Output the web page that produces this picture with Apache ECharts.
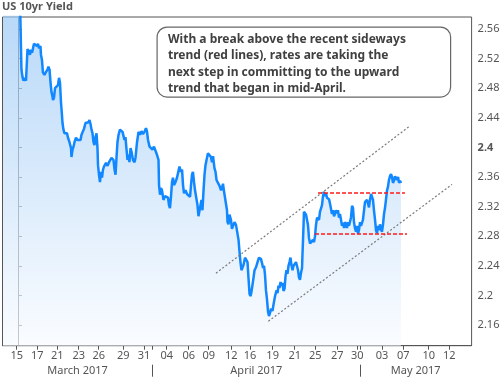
<!DOCTYPE html>
<html>
<head>
<meta charset="utf-8">
<script src="https://cdn.jsdelivr.net/npm/echarts@6/dist/echarts.min.js"></script>
<style>
  html, body { margin: 0; padding: 0; background: #fff; }
  #chart { width: 503px; height: 377px; }
</style>
</head>
<body>
<div id="chart"></div>
<script>
// x = trading session index counted from Mar 15 2017 (weekends removed)
const tradingDay = [
  -1.39,0.19,0.32,0.42,0.51,0.60,0.74,0.83,0.88,1.02,1.11,1.20,1.30,1.39,1.48,1.62,1.76,1.85,1.94,2.08,
  2.13,2.22,2.31,2.45,2.59,2.73,2.82,2.92,3.01,3.10,3.19,3.24,3.33,3.43,3.56,3.70,3.80,3.89,3.98,4.07,
  4.12,4.21,4.31,4.44,4.54,4.63,4.77,4.91,4.95,5.05,5.14,5.23,5.37,5.51,5.65,5.79,5.88,5.97,6.11,6.25,
  6.39,6.53,6.62,6.71,6.81,6.90,6.99,7.08,7.18,7.27,7.36,7.41,7.50,7.59,7.69,7.78,7.87,7.96,8.15,8.29,
  8.43,8.56,8.66,8.75,8.84,8.94,9.03,9.12,9.21,9.31,9.44,9.54,9.68,9.77,9.86,9.95,10.05,10.14,10.23,10.32,
  10.42,10.51,10.65,10.79,10.88,11.02,11.16,11.30,11.44,11.57,11.71,11.85,11.94,12.04,12.18,12.31,12.45,12.59,12.73,12.87,
  13.01,13.06,13.15,13.24,13.33,13.47,13.61,13.75,13.89,13.98,14.07,14.17,14.26,14.35,14.44,14.58,14.72,14.86,14.95,15.09,
  15.19,15.28,15.37,15.51,15.65,15.79,15.93,16.02,16.11,16.20,16.30,16.39,16.53,16.62,16.71,16.81,16.90,16.99,17.08,17.18,
  17.27,17.36,17.50,17.59,17.73,17.87,17.96,18.06,18.19,18.29,18.38,18.52,18.66,18.80,18.89,18.98,19.07,19.17,19.26,19.35,
  19.40,19.49,19.58,19.72,19.81,19.91,20.05,20.19,20.32,20.42,20.51,20.60,20.69,20.79,20.88,21.02,21.16,21.25,21.34,21.44,
  21.53,21.62,21.71,21.81,21.90,22.04,22.18,22.31,22.41,22.50,22.59,22.69,22.78,22.87,22.96,23.06,23.15,23.24,23.33,23.43,
  23.56,23.70,23.80,23.94,24.03,24.12,24.21,24.31,24.40,24.49,24.58,24.68,24.77,24.86,24.95,25.05,25.14,25.23,25.32,25.42,
  25.51,25.65,25.74,25.83,25.93,26.02,26.11,26.20,26.30,26.34,26.44,26.48,
  26.57,26.67,26.76,26.85,26.94,27.04,27.13,27.22,27.31,27.41,27.50,27.59,27.69,27.78,27.87,27.96,28.06,28.15,28.24,28.33,
  28.43,28.52,28.61,28.70,28.80,28.89,28.98,29.07,29.17,29.26,29.35,29.44,29.54,29.63,29.72,29.81,29.91,30.00,30.09,30.19,
  30.28,30.37,30.46,30.56,30.65,30.74,30.83,30.93,31.02,31.11,31.20,31.30,31.39,31.48,31.57,31.67,31.76,31.85,31.94,32.04,
  32.13,32.22,32.31,32.41,32.50,32.59,32.69,32.78,32.87,32.96,33.06,33.15,33.24,33.33,33.43,33.52,33.61,33.70,33.80,33.89,
  33.98,34.07,34.17,34.26,34.35,34.44,34.54,34.63,34.72,34.81,34.91,35.00,35.09,35.19,35.28,35.37,35.46
]

const yields = [
  2.600,2.595,2.505,2.495,2.490,2.494,2.490,2.492,2.533,2.529,
  2.525,2.532,2.528,2.534,2.540,2.541,2.537,2.540,2.534,2.537,
  2.525,2.518,2.501,2.498,2.502,2.505,2.509,2.505,2.488,2.475,
  2.469,2.464,2.467,2.480,2.482,2.484,2.494,2.487,2.461,2.444,
  2.433,2.424,2.419,2.418,2.419,2.413,2.407,2.399,2.387,2.397,
  2.401,2.407,2.413,2.410,2.411,2.410,2.417,2.419,2.425,2.433,
  2.432,2.434,2.437,2.432,2.424,2.419,2.407,2.403,2.414,2.419,
  2.399,2.376,2.363,2.353,2.367,2.359,2.370,2.374,2.379,2.375,
  2.380,2.378,2.386,2.388,2.383,2.370,2.363,2.386,2.407,2.417,
  2.424,2.426,2.421,2.422,2.410,2.414,2.397,2.383,2.390,2.380,
  2.399,2.394,2.383,2.380,2.386,2.407,2.421,2.417,2.422,2.418,
  2.421,2.426,2.422,2.410,2.401,2.399,2.397,2.401,2.399,2.390,
  2.383,2.349,2.336,2.345,2.342,2.329,2.334,2.336,2.332,2.322,
  2.318,2.334,2.353,2.359,2.349,2.353,2.359,2.361,2.374,2.367,
  2.370,2.349,2.338,2.342,2.337,2.338,2.333,2.349,2.363,2.367,
  2.353,2.342,2.340,2.322,2.307,2.309,2.322,2.329,2.315,2.342,
  2.363,2.376,2.386,2.392,2.390,2.387,2.380,2.388,2.372,2.367,
  2.356,2.356,2.348,2.342,2.345,2.351,2.341,2.332,2.330,2.315,
  2.299,2.296,2.309,2.302,2.290,2.294,2.299,2.295,2.294,2.275,
  2.259,2.245,2.234,2.232,2.241,2.251,2.253,2.245,2.224,2.202,
  2.199,2.205,2.207,2.224,2.234,2.238,2.245,2.251,2.253,2.249,
  2.244,2.237,2.240,2.228,2.207,2.194,2.178,2.172,2.176,2.182,
  2.179,2.191,2.199,2.207,2.203,2.213,2.210,2.218,2.213,2.217,
  2.206,2.209,2.226,2.234,2.229,2.240,2.245,2.251,2.241,2.234,
  2.240,2.242,2.245,2.240,2.234,2.224,2.221,2.230,2.237,2.255,
  2.295,2.313,2.314,2.309,2.307,2.295,2.278,2.270,2.272,2.270,
  2.275,2.272,2.280,2.295,2.305,2.307,2.302,2.313,2.315,2.322,
  2.334,2.340,2.334,2.338,2.332,2.334,2.330,2.324,2.322,2.310,
  2.315,2.307,2.310,2.315,2.311,2.315,2.305,2.310,2.302,2.294,
  2.298,2.291,2.299,2.296,2.291,2.299,2.294,2.296,2.305,2.321,
  2.318,2.299,2.291,2.286,2.294,2.283,2.288,2.299,2.294,2.296,
  2.302,2.315,2.326,2.324,2.329,2.324,2.319,2.329,2.337,2.338,
  2.329,2.315,2.302,2.288,2.284,2.294,2.288,2.296,2.290,2.286,
  2.296,2.310,2.318,2.329,2.342,2.347,2.356,2.361,2.364,2.360,
  2.352,2.355,2.361,2.359,2.356,2.360,2.352,2.355,2.352
]

const dayTickLabels = ['15','17','21','23','26','29','31','04','06','09','12','16','19','21','25','27','30','03','07','10','12']
const dayTickPos = [-0.12,1.79,3.64,5.62,7.47,9.75,11.67,13.77,15.81,17.66,19.75,21.48,23.58,25.62,27.53,29.56,31.42,33.70,35.68,38.03,39.94]
const monthBounds = [12.47, 31.67]
const monthLabels = ['March 2017', 'April 2017', 'May 2017']
const monthLabelPos = [5.52, 22.07, 36.83]
const yTicks = [2.16, 2.2, 2.24, 2.28, 2.32, 2.36, 2.4, 2.44, 2.48, 2.52, 2.56]

// [start, end] in [tradingDay, yield]
const channelLines = [
  [[18.33, 2.230], [36.20, 2.428]],
  [[23.18, 2.165], [40.19, 2.350]],
]
const rangeLines = [
  [[27.78, 2.339], [35.83, 2.339]],
  [[27.50, 2.283], [36.02, 2.283]],
]

const noteText = [
  'With a break above the recent sideways',
  'trend (red lines), rates are taking the',
  'next step in committing to the upward',
  'trend that began in mid-April.',
]

const FONT = '"Noto Sans", "DejaVu Sans", sans-serif'
const GREY = '#555'

const n = Math.min(tradingDay.length, yields.length)
const lineData = []
for (let i = 0; i < n; i++) lineData.push([tradingDay[i], yields[i]])

const segs = (lines, style) => lines.map(([a, b]) => [
  { coord: a, lineStyle: style },
  { coord: b },
])

const chart = echarts.init(document.getElementById('chart'), null, { renderer: 'canvas' })

chart.setOption({
  animation: false,
  backgroundColor: '#ffffff',
  textStyle: { fontFamily: FONT },
  title: {
    text: 'US 10yr Yield',
    left: 0,
    top: 0,
    padding: [1, 2],
    textStyle: { fontFamily: FONT, fontSize: 11, fontWeight: 'bold', color: GREY },
  },
  grid: {
    left: 2.5, right: 31.4, top: 17, bottom: 31.3,
    show: true, borderColor: GREY, borderWidth: 1, backgroundColor: 'transparent',
  },
  xAxis: [{
    type: 'value',
    min: -1.435, max: 42.0,
    splitLine: { show: false },
    axisLine: { show: true, lineStyle: { color: GREY, width: 1 } },
    axisTick: { show: true, length: 4, lineStyle: { color: GREY }, customValues: dayTickPos.concat(monthBounds) },
    axisLabel: {
      customValues: dayTickPos,
      margin: 5,
      fontSize: 11, fontFamily: FONT, color: GREY,
      formatter: (v) => dayTickLabels[dayTickPos.indexOf(v)] ?? '',
    },
  }, {
    type: 'value',
    position: 'bottom',
    offset: 19,
    min: -1.435, max: 42.0,
    splitLine: { show: false },
    axisLine: { show: false },
    axisTick: { show: true, length: 12, lineStyle: { color: GREY }, customValues: monthBounds },
    axisLabel: {
      customValues: monthLabelPos,
      margin: 1,
      fontSize: 11, fontFamily: FONT, color: GREY,
      formatter: (v) => monthLabels[monthLabelPos.indexOf(v)] ?? '',
    },
  }],
  yAxis: {
    type: 'value',
    position: 'right',
    min: 2.132, max: 2.5762,
    splitLine: { show: false },
    axisLine: { show: true, lineStyle: { color: GREY, width: 1 } },
    axisTick: { show: true, length: 4, lineStyle: { color: GREY }, customValues: yTicks },
    axisLabel: {
      customValues: yTicks,
      margin: 6,
      fontSize: 11, fontFamily: FONT, color: GREY,
      formatter: (v) => Math.abs(v - 2.4) < 1e-9 ? '{b|2.4}' : String(v),
      rich: { b: { fontWeight: 'bold', fontSize: 11, fontFamily: FONT, color: GREY } },
    },
  },
  series: [{
    type: 'line',
    data: lineData,
    showSymbol: false,
    symbol: 'none',
    clip: true,
    lineStyle: { color: '#1188ff', width: 2.5 },
    areaStyle: {
      color: new echarts.graphic.LinearGradient(0, 0, 0, 1, [
        { offset: 0, color: '#96c6f5' },
        { offset: 1, color: '#f8fbff' },
      ]),
    },
    markLine: {
      silent: true,
      symbol: 'none',
      label: { show: false },
      emphasis: { disabled: true },
      data: [
        ...segs(channelLines, { color: '#7a7a7a', width: 1.2, type: [2, 2] }),
        ...segs(rangeLines, { color: '#ff1a1a', width: 1.5, type: [4, 2] }),
      ],
    },
  }],
  graphic: [{
    type: 'rect',
    z: 100,
    left: 156.5, top: 26.5,
    shape: { width: 293.5, height: 70, r: 10 },
    style: { fill: '#fff', stroke: '#666', lineWidth: 1.2 },
  }, {
    type: 'text',
    z: 101,
    left: 168, top: 31,
    style: {
      text: noteText.join('\n'),
      font: 'bold 12px ' + FONT,
      fill: '#404040',
      lineHeight: 16.5,
    },
  }],
})
</script>
</body>
</html>
